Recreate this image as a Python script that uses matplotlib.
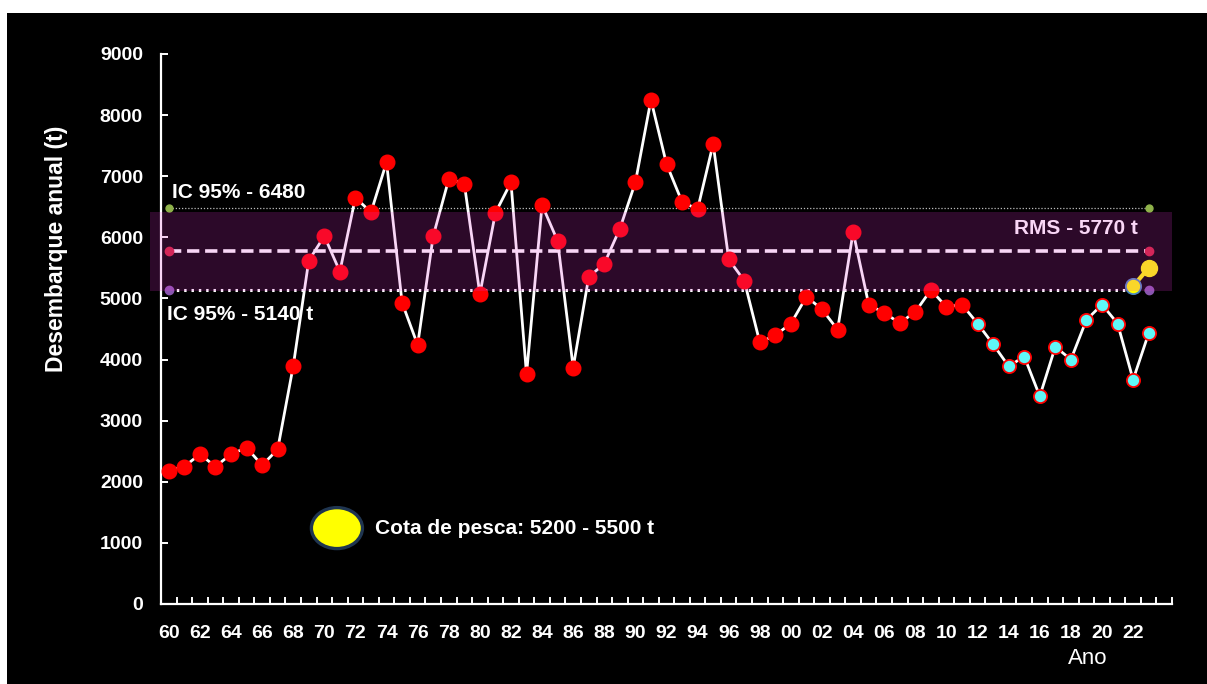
import matplotlib
matplotlib.use("Agg")
import matplotlib.pyplot as plt
from matplotlib.patches import Ellipse, Rectangle
import numpy as np

# annual landings (t), 1960-2023
YEARS = list(range(1960, 2024))
LANDINGS = [
    2180, 2250, 2450, 2250, 2450, 2560, 2270, 2530, 3890, 5620,
    6020, 5440, 6650, 6410, 7230, 4930, 4240, 6020, 6950, 6880,
    5070, 6400, 6900, 3760, 6530, 5940, 3870, 5350, 5570, 6140,
    6900, 8250, 7200, 6580, 6460, 7530, 5640, 5290, 4280, 4400,
    4590, 5030, 4820, 4490, 6090, 4900, 4760, 4600, 4780, 5140,
    4860, 4900, 4590, 4250, 3890, 4050, 3400, 4210, 4000, 4650,
    4900, 4590, 3670, 4430,
]
RECENT_FROM = 2012  # cyan markers from here on

QUOTA_YEARS = [2022, 2023]
QUOTA = [5200, 5500]

IC_HIGH = 6480
IC_LOW = 5140
RMS = 5770
BAND_LO, BAND_HI = 5130, 6420

Y_TICKS = list(range(0, 10000, 1000))
X_TICK_YEARS = list(range(1960, 2024, 2))

plt.rcParams["font.family"] = ["Liberation Sans", "DejaVu Sans"]

W, H = 1207, 684
fig = plt.figure(figsize=(W / 100, H / 100), dpi=100, facecolor="white")
fig.patches.append(Rectangle((7 / W, 0), 1, 1 - 13 / H, transform=fig.transFigure,
                             facecolor="black", edgecolor="none", zorder=-10))
ax = fig.add_axes([161 / W, 1 - 604 / H, 1011 / W, 550 / H])
ax.set_facecolor("none")

years = np.array(YEARS)
vals = np.array(LANDINGS)
old = years < RECENT_FROM

# reference lines
first_last = [YEARS[0], YEARS[-1]]
ax.plot(first_last, [IC_HIGH] * 2, color="#bdbdbd", lw=0.9, ls=(0, (1, 1.5)),
        marker="o", ms=5, mfc="#8fb24a", mec="#8fb24a", zorder=2)
ax.plot(first_last, [RMS] * 2, color="white", lw=2.6, dashes=(3.4, 1.6),
        marker="o", ms=6, mfc="#d0243c", mec="#d0243c", zorder=2)
ax.plot(first_last, [IC_LOW] * 2, color="white", lw=2.2, ls=(0, (0.8, 1.6)),
        marker="o", ms=6, mfc="#8a55b0", mec="#8a55b0", zorder=2)

# landings series
ax.plot(years, vals, color="white", lw=2.0, zorder=3)
ax.plot(years[old], vals[old], ls="none", marker="o", ms=10.5,
        mfc="#ff0000", mec="#ff0000", zorder=4)
ax.plot(years[~old], vals[~old], ls="none", marker="o", ms=9.5,
        mfc="#5ff7f7", mec="#ff0000", mew=1.3, zorder=4)

# quota
ax.plot(QUOTA_YEARS, QUOTA, color="#ffff00", lw=3, zorder=5)
ax.plot(QUOTA_YEARS[0], QUOTA[0], marker="o", ms=11, mfc="#ffff00",
        mec="#4a86c0", mew=1.3, zorder=6)
ax.plot(QUOTA_YEARS[1], QUOTA[1], marker="o", ms=11.5, mfc="#ffff00",
        mec="#ffff00", zorder=6)

ax.text(2022.3, 6150, "RMS - 5770 t", color="white", fontsize=15,
        fontweight="bold", ha="right", va="center", zorder=7)

# translucent purple band over everything
band = Rectangle((1958.8, BAND_LO), 2024.5 - 1958.8, BAND_HI - BAND_LO,
                 facecolor=(225 / 255, 50 / 255, 210 / 255), alpha=0.2,
                 edgecolor="none", zorder=10, clip_on=False)
ax.add_patch(band)

ax.text(1960.2, 6730, "IC 95% - 6480", color="white", fontsize=15,
        fontweight="bold", ha="left", va="center", zorder=11)
ax.text(1959.9, 4745, "IC 95% - 5140 t", color="white", fontsize=15,
        fontweight="bold", ha="left", va="center", zorder=11)

# quota legend
ax.add_patch(Ellipse((0.174, 0.138), 0.0505, 0.0745, transform=ax.transAxes,
                     facecolor="#ffff00", edgecolor="#1f3550", lw=2.4, zorder=11))
ax.text(0.2117, 0.138, "Cota de pesca: 5200 - 5500 t", transform=ax.transAxes,
        color="white", fontsize=15, fontweight="bold", ha="left", va="center")

# axes
ax.set_xlim(1959.5, 2024.5)
ax.set_ylim(0, 9000)
for side in ("top", "right"):
    ax.spines[side].set_visible(False)
for side in ("left", "bottom"):
    ax.spines[side].set_color("white")
    ax.spines[side].set_linewidth(1.6)

ax.set_yticks(Y_TICKS)
ax.set_yticklabels([str(v) for v in Y_TICKS])
ax.tick_params(axis="y", direction="in", length=5, width=1.4, color="white",
               labelcolor="white", labelsize=14, pad=13)
for lab in ax.get_yticklabels():
    lab.set_fontweight("bold")

ax.set_xticks(X_TICK_YEARS)
ax.set_xticklabels([f"{y % 100:02d}" for y in X_TICK_YEARS])
ax.set_xticks(np.arange(1959.5, 2025, 1), minor=True)
ax.tick_params(axis="x", which="major", length=0, labelcolor="white",
               labelsize=14, pad=15)
ax.tick_params(axis="x", which="minor", direction="in", length=5, width=1.4,
               color="white")
for lab in ax.get_xticklabels():
    lab.set_fontweight("bold")

ax.set_ylabel("Desembarque anual (t)", color="white", fontsize=16.5,
              fontweight="bold")
ax.yaxis.set_label_coords(-93 / 1011, (604 - 249) / 550)
ax.text((1088 - 161) / 1011, -(658 - 604) / 550, "Ano", transform=ax.transAxes,
        color="white", fontsize=16, ha="center", va="center")

fig.savefig("out.png", dpi=100, facecolor=fig.get_facecolor())
